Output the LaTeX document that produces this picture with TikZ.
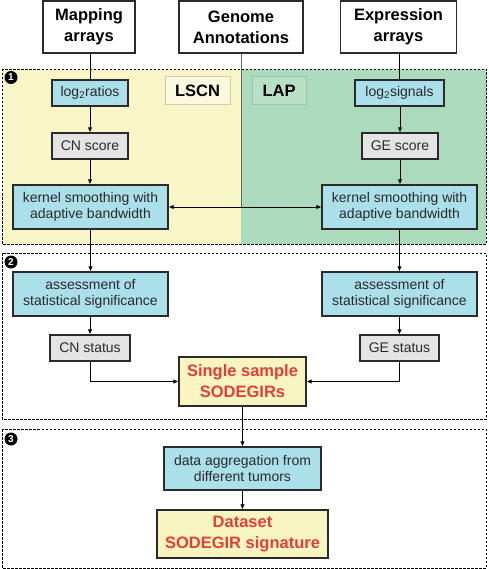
\documentclass[tikz,border=0pt]{standalone}
\usepackage{fontspec}
\setmainfont{Liberation Sans}
\usetikzlibrary{arrows.meta}
\definecolor{bgyel}{HTML}{F8F5C6}
\definecolor{bggrn}{HTML}{ACDABD}
\definecolor{cyanbox}{HTML}{ABDFEA}
\definecolor{greybox}{HTML}{E4E4E4}
\definecolor{resbox}{HTML}{F8F5C0}
\definecolor{redtxt}{HTML}{E0403A}
\definecolor{edge}{HTML}{2A2A2A}
\definecolor{txt}{HTML}{2A2A2A}
\tikzset{
  base/.style={draw=edge, line width=1.2pt, inner sep=0pt, align=center, text=txt},
  srcbox/.style={base, fill=white, font=\fontsize{16.5}{21}\selectfont\bfseries, text=black},
  cybox/.style={base, fill=cyanbox, font=\fontsize{14}{16.5}\selectfont},
  grbox/.style={base, fill=greybox, font=\fontsize{14}{16.5}\selectfont},
  resultbox/.style={base, fill=resbox, text=redtxt, font=\fontsize{16.5}{21}\selectfont\bfseries},
  tagbox/.style={draw=#1, line width=1pt, inner sep=0pt, font=\fontsize{16.5}{21}\selectfont\bfseries, text=black},
  secbox/.style={draw=black, line width=0.8pt, dash pattern=on 2.5pt off 1.5pt},
  numdot/.style={circle, fill=black, text=white, inner sep=0pt, minimum size=13pt, font=\fontsize{10}{10}\selectfont\bfseries},
  arr/.style={draw=black, line width=0.9pt, -{Latex[length=5pt,width=4.5pt]}},
  ln/.style={draw=black, line width=0.9pt}
}
\begin{document}
\begin{tikzpicture}[x=1pt,y=-1pt]
\useasboundingbox (0,0) rectangle (488,569);
% section backgrounds
\fill[bgyel] (2,69) rectangle (241,244);
\fill[bggrn] (241,69) rectangle (486,244);
\draw[secbox] (2,69) rectangle (486,244);
\draw[secbox] (2,253) rectangle (486,419);
\draw[secbox] (2,429) rectangle (486,568);
\node[numdot] (n1) at (11,77.5) {1};
\node[numdot] (n2) at (11,262) {2};
\node[numdot] (n3) at (11,439) {3};
% source boxes
\node[srcbox, minimum width=92pt, minimum height=52pt] (map) at (89,27) {Mapping\\arrays};
\node[srcbox, minimum width=124pt, minimum height=52pt] (gen) at (241,27) {Genome\\Annotations};
\node[srcbox, minimum width=116pt, minimum height=52pt] (exp) at (398.5,27) {Expression\\arrays};
% labels
\node[tagbox=bgyel!65!gray, fill=bgyel!60!white, minimum width=65pt, minimum height=28pt] (lscn) at (197.5,91) {LSCN};
\node[tagbox=bggrn!75!gray, fill=bggrn!85!white, minimum width=54pt, minimum height=28pt] (lap) at (279,91) {LAP};
% section 1
\node[cybox, minimum width=76pt, minimum height=26pt] (lr) at (90,93) {log\textsubscript{2}ratios};
\node[cybox, minimum width=89pt, minimum height=26pt] (ls) at (399.5,93) {log\textsubscript{2}signals};
\node[grbox, minimum width=76pt, minimum height=26pt] (cns) at (90,146) {CN score};
\node[grbox, minimum width=76pt, minimum height=26pt] (ges) at (400,146) {GE score};
\node[cybox, minimum width=155pt, minimum height=44pt] (kl) at (90.5,207) {kernel smoothing with\\adaptive bandwidth};
\node[cybox, minimum width=155pt, minimum height=44pt] (kr) at (399.5,207) {kernel smoothing with\\adaptive bandwidth};
% section 2
\node[cybox, minimum width=155pt, minimum height=44pt] (al) at (90.5,294) {assessment of\\statistical significance};
\node[cybox, minimum width=155pt, minimum height=44pt] (ar) at (399.5,294) {assessment of\\statistical significance};
\node[grbox, minimum width=80pt, minimum height=26pt] (cnst) at (90,348) {CN status};
\node[grbox, minimum width=79pt, minimum height=26pt] (gest) at (399.5,348) {GE status};
\node[resultbox, minimum width=127pt, minimum height=49pt] (single) at (242.5,381.5) {Single sample\\SODEGIRs};
% section 3
\node[cybox, minimum width=157pt, minimum height=43pt] (agg) at (242.5,468.5) {data aggregation from\\different tumors};
\node[resultbox, minimum width=171pt, minimum height=48pt] (data) at (242.5,534) {Dataset\\SODEGIR signature};
% connectors
\draw[ln] (map.south -| lr.north) -- (lr.north);
\draw[ln] (exp.south -| ls.north) -- (ls.north);
\draw[arr] (lr.south) -- (lr.south |- cns.north);
\draw[arr] (ls.south -| ges.north) -- (ges.north);
\draw[arr] (cns.south) -- (cns.south |- kl.north);
\draw[arr] (ges.south) -- (ges.south |- kr.north);
\coordinate (gj) at (gen.south |- kl.east);
\draw[draw=black!60, line width=1pt] (gen.south) -- (gj);
\draw[arr] (gj) -- (kl.east);
\draw[arr] (gj) -- (kr.west);
\draw[arr] (kl.south) -- (kl.south |- al.north);
\draw[arr] (kr.south) -- (kr.south |- ar.north);
\draw[arr] (al.south -| cnst.north) -- (cnst.north);
\draw[arr] (ar.south -| gest.north) -- (gest.north);
\draw[arr] (cnst.south) |- (single.west);
\draw[arr] (gest.south) |- (single.east);
\draw[arr] (single.south) -- (agg.north);
\draw[arr] (agg.south) -- (data.north);
\end{tikzpicture}
\end{document}
